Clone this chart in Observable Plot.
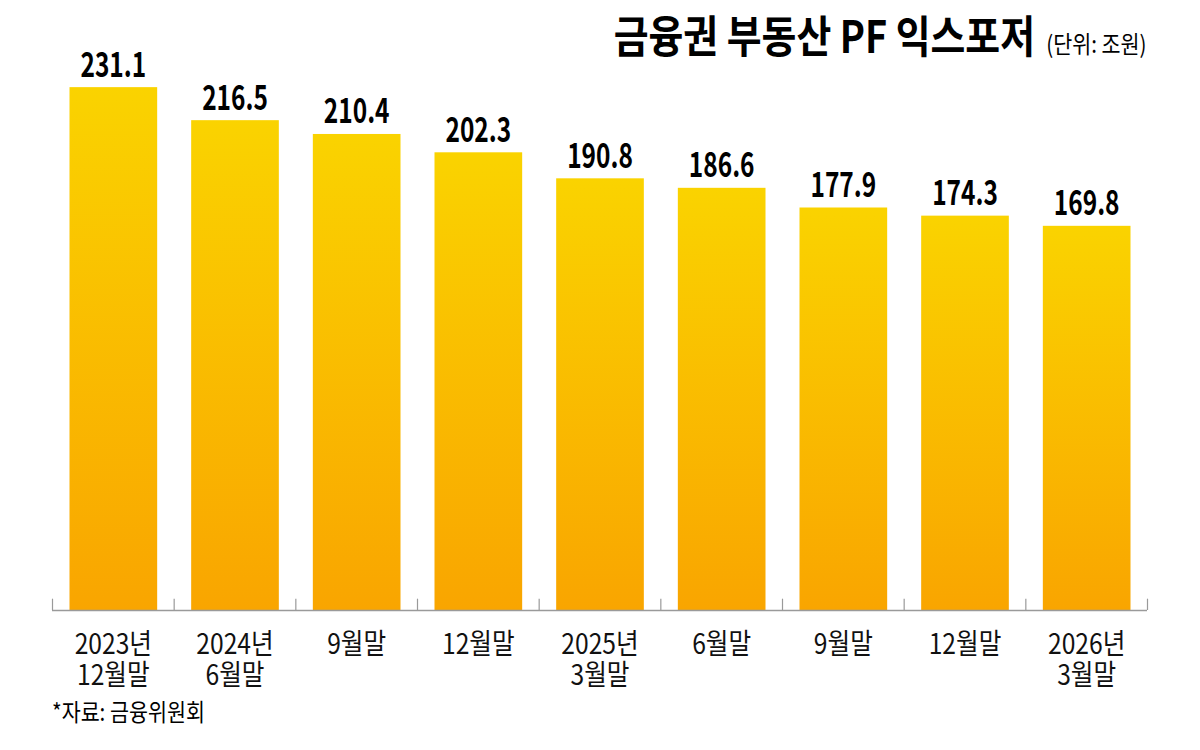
<!DOCTYPE html>
<html><head><meta charset="utf-8">
<script src="https://cdn.jsdelivr.net/npm/d3@7"></script>
<script src="https://cdn.jsdelivr.net/npm/@observablehq/plot@0.6"></script>
<style>
body{margin:0;background:#fff;}
#wrap{position:relative;width:1200px;height:750px;overflow:hidden;font-family:"Noto Sans CJK KR","Noto Sans",sans-serif;color:#000;}
#chart{position:absolute;left:0;top:0;}
#title{position:absolute;right:54px;top:12px;white-space:nowrap;line-height:1;transform:scaleX(0.86);transform-origin:right center;}
#title .main{font-size:44px;font-weight:bold;}
#title .unit{font-size:24px;font-weight:normal;margin-left:13px;}
#caption{position:absolute;left:52px;top:699px;font-size:24px;line-height:1;white-space:nowrap;transform:scaleX(0.86);transform-origin:left center;}
</style>
</head><body>
<div id="wrap">
  <div id="chart"></div>
  <div id="title"><span class="main">금융권 부동산 PF 익스포저</span><span class="unit">(단위: 조원)</span></div>
  <div id="caption">*자료: 금융위원회</div>
</div>
<script>
const categories = ["2023년\n12월말", "2024년\n6월말", "9월말", "12월말", "2025년\n3월말", "6월말", "9월말", "12월말", "2026년\n3월말"];
const values = [231.1, 216.5, 210.4, 202.3, 190.8, 186.6, 177.9, 174.3, 169.8];
const valueLabels = ["231.1", "216.5", "210.4", "202.3", "190.8", "186.6", "177.9", "174.3", "169.8"];

const data = categories.map((c, i) => ({i, cat: c, value: values[i], label: valueLabels[i]}));
const boundaries = d3.range(categories.length + 1);

const chart = Plot.plot({
  width: 1200,
  height: 750,
  marginLeft: 52,
  marginRight: 53,
  marginTop: 67,
  marginBottom: 140,
  x: {type: "linear", domain: [0, categories.length], axis: null},
  y: {domain: [0, 240], axis: null},
  style: {fontFamily: "'Noto Sans CJK KR', 'Noto Sans', sans-serif", background: "#fff"},
  marks: [
    Plot.rectY(data, {x1: "i", x2: d => d.i + 1, y: "value", fill: "url(#barGrad)", insetLeft: 17.5, insetRight: 16.5}),
    Plot.ruleY([0], {stroke: "#9a9a9a", strokeWidth: 1.5}),
    Plot.ruleX(boundaries, {x: d => d, y1: 0, y2: 5, stroke: "#9a9a9a", strokeWidth: 1.2}),
    Plot.text(data, {x: d => d.i + 0.5, y: "value", text: "label", dy: -11, lineAnchor: "bottom", fontSize: 34, fontWeight: "bold", fill: "#000", className: "vlab"}),
    Plot.text(data, {x: d => d.i + 0.5, y: 0, text: "cat", dy: 22, lineAnchor: "top", lineHeight: 1.1, fontSize: 28, fill: "#111", className: "xlab"})
  ]
});

const svg = d3.select(chart);
const defs = svg.insert("defs", ":first-child");
const g = defs.append("linearGradient").attr("id", "barGrad").attr("x1", 0).attr("y1", 0).attr("x2", 0).attr("y2", 1);
g.append("stop").attr("offset", "0%").attr("stop-color", "#FAD300");
g.append("stop").attr("offset", "100%").attr("stop-color", "#F9A500");

function squeeze(sel, s) {
  svg.selectAll(sel + " text").each(function() {
    const t = this.getAttribute("transform");
    if (t) {
      this.setAttribute("transform", t + ` scale(${s},1)`);
    } else {
      const x = +this.getAttribute("x") || 0, y = +this.getAttribute("y") || 0;
      this.setAttribute("transform", `translate(${x},${y}) scale(${s},1) translate(${-x},${-y})`);
    }
  });
}
squeeze(".vlab", 0.72);
squeeze(".xlab", 0.88);

document.getElementById("chart").appendChild(chart);
</script>
</body></html>
